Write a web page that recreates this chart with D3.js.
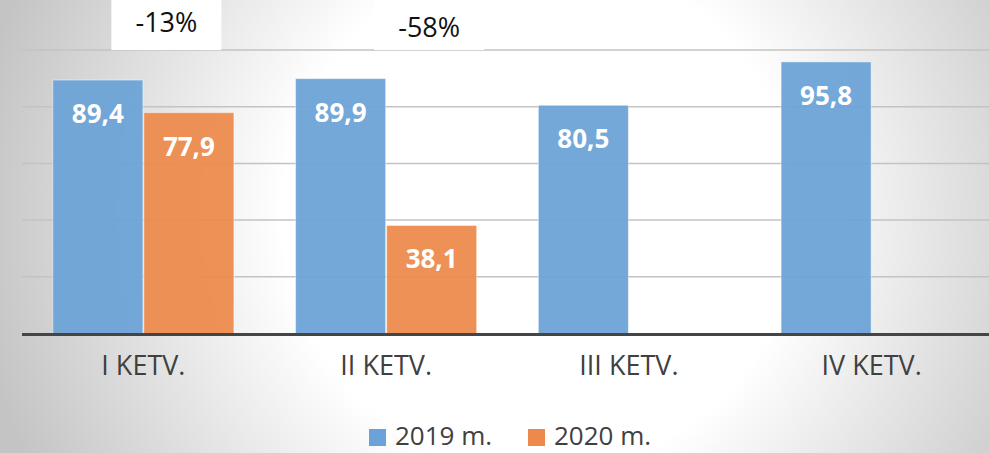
<html>
  <head>
    <meta charset="utf-8" />
    <script src="https://d3js.org/d3.v7.min.js"></script>
    <style>
      body { margin: 0; overflow: hidden; }
      text { font-family: "Open Sans", "Noto Sans", sans-serif; }
    </style>
  </head>
  <body>
    <svg id="chart" width="989" height="453"></svg>
    <script>
      // data
      var quarters = ["I KETV.", "II KETV.", "III KETV.", "IV KETV."];
      var years = ["2019 m.", "2020 m."];
      var v2019 = [89.4, 89.9, 80.5, 95.8];
      var v2020 = [77.9, 38.1, null, null];
      var changes = ["-13%", "-58%"];
      var yTicks = [0, 20, 40, 60, 80, 100];
      var colors = ["#6aa3d7", "#ed8a4b"];

      var svg = d3.select("#chart"),
        width = +svg.attr("width"),
        height = +svg.attr("height");

      // background gradient
      var defs = svg.append("defs");
      var grad = defs.append("radialGradient")
        .attr("id", "bg")
        .attr("gradientUnits", "userSpaceOnUse")
        .attr("cx", 540).attr("cy", 215).attr("r", 570);
      grad.append("stop").attr("offset", "0").attr("stop-color", "#ffffff");
      grad.append("stop").attr("offset", "0.45").attr("stop-color", "#ffffff");
      grad.append("stop").attr("offset", "1").attr("stop-color", "#c4c4c4");
      svg.append("rect").attr("width", width).attr("height", height).attr("fill", "url(#bg)");

      var x = d3.scaleBand()
        .domain(quarters)
        .range([22, 993])
        .paddingInner(0.25)
        .paddingOuter(0.125);

      var x1 = d3.scaleBand().domain(years).range([0, x.bandwidth()]).padding(0);

      var y = d3.scaleLinear().domain([0, 100]).range([333.5, 50]);

      // gridlines
      svg.append("g")
        .selectAll("line")
        .data(yTicks.slice(1))
        .enter()
        .append("line")
        .attr("x1", 22).attr("x2", width)
        .attr("y1", (d) => y(d)).attr("y2", (d) => y(d))
        .attr("stroke", "#c3c3c3")
        .attr("stroke-width", 1.5);

      var rows = [];
      quarters.forEach(function (q, i) {
        rows.push({ q: q, s: years[0], v: v2019[i], c: colors[0] });
        if (v2020[i] != null) rows.push({ q: q, s: years[1], v: v2020[i], c: colors[1] });
      });

      svg.append("g")
        .selectAll("rect")
        .data(rows)
        .enter()
        .append("rect")
        .attr("x", (d) => x(d.q) + x1(d.s) + 0.5)
        .attr("y", (d) => y(d.v))
        .attr("width", x1.bandwidth() - 1)
        .attr("height", (d) => y(0) - y(d.v))
        .attr("fill", (d) => d.c)
        .attr("fill-opacity", 0.94)
        .attr("stroke", "#ffffff")
        .attr("stroke-opacity", 0.45)
        .attr("stroke-width", 1);

      // value labels
      svg.append("g")
        .selectAll("text")
        .data(rows)
        .enter()
        .append("text")
        .attr("x", (d) => x(d.q) + x1(d.s) + x1.bandwidth() / 2)
        .attr("y", (d) => y(d.v) + 43)
        .attr("text-anchor", "middle")
        .attr("fill", "#ffffff")
        .attr("font-weight", "bold")
        .attr("font-size", "26px")
        .text((d) => String(d.v).replace(".", ","));

      // x axis
      var xAxis = svg.append("g")
        .attr("transform", "translate(0," + y(0) + ")")
        .call(d3.axisBottom(x).tickSize(0).tickPadding(22));
      xAxis.select(".domain").remove();
      xAxis.selectAll("text")
        .attr("font-size", "27px")
        .attr("fill", "#404040")
        .attr("dy", "0.71em");
      svg.append("line")
        .attr("x1", 22).attr("x2", width)
        .attr("y1", y(0) + 1).attr("y2", y(0) + 1)
        .attr("stroke", "#454545")
        .attr("stroke-width", 3);

      // change notes
      var noteOffsets = [23, 43];
      var notes = svg.append("g")
        .selectAll("g")
        .data(changes)
        .enter()
        .append("g")
        .attr("transform", (d, i) => "translate(" + (x(quarters[i]) + x.bandwidth() / 2 + noteOffsets[i]) + ",0)");
      notes.append("rect")
        .attr("x", -55).attr("y", 0)
        .attr("width", 110).attr("height", 50)
        .attr("fill", "#ffffff");
      notes.append("text")
        .attr("y", (d, i) => (i == 0 ? 32 : 37))
        .attr("text-anchor", "middle")
        .attr("font-size", "27px")
        .attr("fill", "#111111")
        .text((d) => d);

      // legend
      var legendX = [369, 528];
      var legend = svg.append("g")
        .selectAll("g")
        .data(years)
        .enter()
        .append("g")
        .attr("transform", (d, i) => "translate(" + legendX[i] + ",429)");
      legend.append("rect")
        .attr("width", 17).attr("height", 17)
        .attr("fill", (d, i) => colors[i]);
      legend.append("text")
        .attr("x", 26).attr("y", 16)
        .attr("font-size", "26px")
        .attr("fill", "#404040")
        .text((d) => d);
    </script>
  </body>
</html>
